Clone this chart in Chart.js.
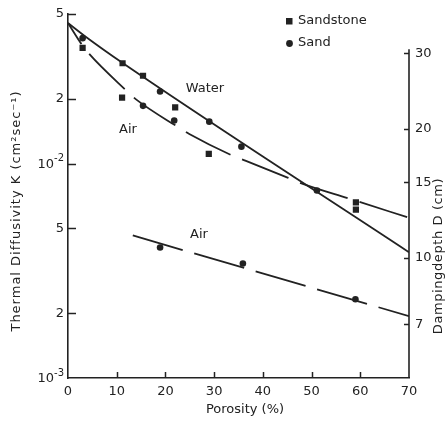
<!DOCTYPE html>
<html>
<head>
<meta charset="utf-8">
<title>Thermal diffusivity vs porosity</title>
<script src="https://cdn.jsdelivr.net/npm/chart.js@4.4.1/dist/chart.umd.min.js"></script>
<style>
  html, body { margin: 0; padding: 0; background: #fff; }
  canvas { display: block; }
</style>
</head>
<body>
<canvas id="chart" width="447" height="421"></canvas>
<script>
// Porosity (%) vs thermal diffusivity K (cm^2/s)

// Water curve (solid)
const waterX = [0, 3.7, 11.3, 70];
const waterK = [0.0453, 0.039, 0.0294, 0.00386];

// Air curve, upper (dashed)
const airUpperX = [0, 2.7, 4.4, 11.9, 13.9, 22.9, 24.9, 33.8, 36.4, 45.2, 48.2, 57.9, 70];
const airUpperK = [0.0453, 0.0363, 0.0324, 0.022, 0.02, 0.01466, 0.01374, 0.01089, 0.01032, 0.00858, 0.00805, 0.00685, 0.00559];

// Air curve, lower (dashed)
const airLowerX = [13.3, 70];
const airLowerK = [0.004625, 0.001943];

// Measured points
const sandstoneX = [3.0, 11.2, 15.4, 11.1, 22.0, 28.9, 59.1, 59.1];
const sandstoneK = [0.0347, 0.0294, 0.0257, 0.0203, 0.0183, 0.0111, 0.0066, 0.0061];
const sandX = [3.0, 15.4, 18.9, 21.8, 29.0, 35.6, 51.1, 18.9, 35.9, 59.0];
const sandK = [0.0385, 0.0186, 0.0217, 0.0159, 0.0157, 0.012, 0.00749, 0.00406, 0.00342, 0.00233];

// Axis ticks
const xTicks = [0, 10, 20, 30, 40, 50, 60, 70];
const kTicks = [0.001, 0.002, 0.005, 0.01, 0.02, 0.05];
const kLabels = ['', '2', '5', '', '2', '5'];
const kPowers = { 0.001: '-3', 0.01: '-2' };
const dTicks = [7, 10, 15, 20, 30];

// Damping depth D = sqrt(2K / omega), daily period
const omega = (2 * Math.PI) / 86400;
const depthOf = (k) => Math.sqrt((2 * k) / omega);

const INK = '#222';
const FONT = 'DejaVu Sans';

const pts = (xs, ys) => xs.map((x, i) => ({ x: x, y: ys[i] }));

// Extra drawing: inward ticks, right axis line, legend, labels
const overlayPlugin = {
  id: 'overlay',
  afterDraw(chart) {
    const { ctx, chartArea, scales } = chart;
    const line = (x1, y1, x2, y2) => {
      ctx.beginPath();
      ctx.moveTo(x1, y1);
      ctx.lineTo(x2, y2);
      ctx.stroke();
    };
    ctx.save();
    ctx.strokeStyle = INK;
    ctx.fillStyle = INK;
    ctx.lineWidth = 1.5;

    // left ticks
    kTicks.slice(1).forEach((v) => {
      const py = Math.round(scales.y.getPixelForValue(v)) + 0.5;
      line(chartArea.left, py, chartArea.left + 8, py);
    });

    // powers of ten on the left axis
    ctx.textBaseline = 'middle';
    ctx.textAlign = 'right';
    Object.keys(kPowers).forEach((key) => {
      const py = scales.y.getPixelForValue(Number(key));
      const right = chartArea.left - 4;
      ctx.font = '10px ' + FONT;
      const supW = ctx.measureText(kPowers[key]).width;
      ctx.fillText(kPowers[key], right, py - 5);
      ctx.font = '13px ' + FONT;
      ctx.fillText('10', right - supW, py + 1);
    });

    // bottom ticks
    xTicks.slice(1, -1).forEach((v) => {
      const px = Math.round(scales.x.getPixelForValue(v)) + 0.5;
      line(px, chartArea.bottom, px, chartArea.bottom - 6);
    });

    // right axis
    const rx = chartArea.right;
    const topD = scales.y2.getPixelForValue(30) - 4;
    ctx.lineWidth = 1.6;
    line(rx, topD, rx, chartArea.bottom);
    ctx.lineWidth = 1.5;
    dTicks.forEach((v) => {
      const py = Math.round(scales.y2.getPixelForValue(v)) + 0.5;
      line(rx - 5, py, rx, py);
    });

    // legend
    ctx.fillRect(286, 18, 6.5, 6.5);
    ctx.beginPath();
    ctx.arc(289.5, 43.5, 3.4, 0, Math.PI * 2);
    ctx.fill();
    ctx.font = '13px ' + FONT;
    ctx.textAlign = 'left';
    ctx.fillText('Sandstone', 298, 21);
    ctx.fillText('Sand', 298, 43);

    // curve labels
    ctx.textAlign = 'center';
    ctx.fillText('Water', 205, 89);
    ctx.fillText('Air', 128, 130);
    ctx.fillText('Air', 199, 235);

    // axis titles
    ctx.font = '13px ' + FONT;
    ctx.fillText('Porosity (%)', 245, 410);

    ctx.letterSpacing = '1px';
    ctx.save();
    ctx.translate(17, 211);
    ctx.rotate(-Math.PI / 2);
    ctx.fillText('Thermal Diffusivity K (cm\u00B2sec\u207B\u00B9)', 0, 0);
    ctx.restore();

    ctx.letterSpacing = '0.6px';
    ctx.save();
    ctx.translate(439, 256);
    ctx.rotate(-Math.PI / 2);
    ctx.fillText('Dampingdepth D (cm)', 0, 0);
    ctx.restore();

    ctx.restore();
  },
};

const tickFont = { family: FONT, size: 13 };

new Chart(document.getElementById('chart'), {
  type: 'scatter',
  data: {
    datasets: [
      {
        label: 'Sandstone',
        data: pts(sandstoneX, sandstoneK),
        pointStyle: 'rect',
        pointRadius: 4.4,
        backgroundColor: INK,
        borderColor: INK,
        borderWidth: 0,
      },
      {
        label: 'Sand',
        data: pts(sandX, sandK),
        pointStyle: 'circle',
        pointRadius: 3.3,
        backgroundColor: INK,
        borderColor: INK,
        borderWidth: 0,
      },
      {
        label: 'Water',
        data: pts(waterX, waterK),
        showLine: true,
        pointRadius: 0,
        borderColor: INK,
        borderWidth: 1.8,
        cubicInterpolationMode: 'monotone',
      },
      {
        label: 'Air',
        data: pts(airUpperX, airUpperK),
        showLine: true,
        pointRadius: 0,
        borderColor: INK,
        borderWidth: 1.8,
        borderDash: [50, 12.5],
        borderDashOffset: 25,
        cubicInterpolationMode: 'monotone',
      },
      {
        label: 'Air (sand)',
        data: pts(airLowerX, airLowerK),
        showLine: true,
        pointRadius: 0,
        borderColor: INK,
        borderWidth: 1.8,
        borderDash: [52, 12],
      },
    ],
  },
  options: {
    responsive: false,
    animation: false,
    devicePixelRatio: 1,
    layout: { padding: { top: 12, left: 0, right: 0, bottom: 0 } },
    plugins: {
      legend: { display: false },
      tooltip: { enabled: false },
    },
    scales: {
      x: {
        type: 'linear',
        min: 0,
        max: 70,
        afterBuildTicks: (s) => { s.ticks = xTicks.map((v) => ({ value: v })); },
        afterFit: (s) => { s.height = 43; },
        ticks: { font: tickFont, color: INK, padding: 6, autoSkip: false, maxRotation: 0 },
        grid: { display: false, drawTicks: false },
        border: { display: true, color: INK, width: 1.6 },
      },
      y: {
        type: 'logarithmic',
        position: 'left',
        min: 0.001,
        max: 0.05,
        afterBuildTicks: (s) => { s.ticks = kTicks.map((v) => ({ value: v })); },
        afterFit: (s) => { s.width = 68; },
        ticks: {
          font: tickFont,
          color: INK,
          padding: 4,
          autoSkip: false,
          callback: (v) => kLabels[kTicks.indexOf(v)],
        },
        grid: { display: false, drawTicks: false },
        border: { display: true, color: INK, width: 1.6 },
      },
      y2: {
        type: 'logarithmic',
        position: 'right',
        min: depthOf(0.001),
        max: depthOf(0.05),
        afterBuildTicks: (s) => { s.ticks = dTicks.map((v) => ({ value: v })); },
        afterFit: (s) => { s.width = 38; },
        ticks: {
          font: tickFont,
          color: INK,
          padding: 6,
          autoSkip: false,
          callback: (v) => String(v),
        },
        grid: { display: false, drawTicks: false },
        border: { display: false },
      },
    },
  },
  plugins: [overlayPlugin],
});
</script>
</body>
</html>
